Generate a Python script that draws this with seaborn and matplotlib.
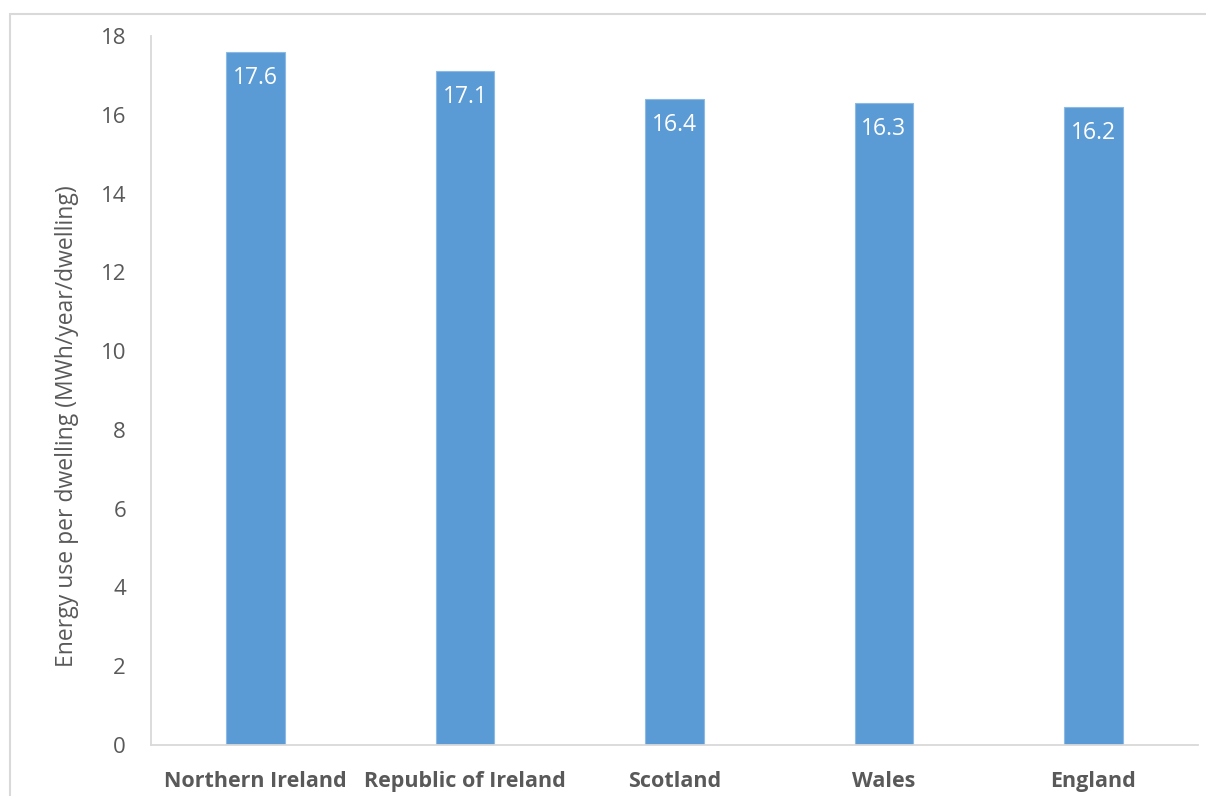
import matplotlib
matplotlib.use("Agg")
import matplotlib.pyplot as plt
from matplotlib.patches import Rectangle
import seaborn as sns
import pandas as pd

regions = ["Northern Ireland", "Republic of Ireland", "Scotland", "Wales", "England"]
energy_use = [17.6, 17.1, 16.4, 16.3, 16.2]
y_ticks = [0, 2, 4, 6, 8, 10, 12, 14, 16, 18]

sns.set_theme(style="white")
plt.rcParams["font.family"] = ["Open Sans", "DejaVu Sans"]

df = pd.DataFrame({"region": regions, "energy": energy_use})

fig = plt.figure(figsize=(12.06, 7.96), dpi=100)
ax = fig.add_axes([151 / 1206, 1 - 745 / 796, (1198 - 151) / 1206, (745 - 36) / 796])

sns.barplot(data=df, x="region", y="energy", color="#5B9BD5", saturation=1,
            width=0.28, ax=ax, edgecolor="#8DB9E5", linewidth=0.8)

ax.set_xlim(-0.5, len(regions) - 0.5)
ax.set_ylim(0, 18)
ax.set_yticks(y_ticks)
ax.set_yticklabels([str(t) for t in y_ticks], fontsize=16, color="#595959")
ax.tick_params(axis="y", length=0, pad=18)
ax.tick_params(axis="x", length=0, pad=19)
for lbl in ax.get_xticklabels():
    lbl.set_fontsize(15.5)
    lbl.set_fontweight("bold")
    lbl.set_color("#595959")

ax.set_xlabel("")
ax.set_ylabel("Energy use per dwelling (MWh/year/dwelling)", fontsize=16.5,
              color="#595959")
ax.yaxis.set_label_coords(-0.0686, 0.45)

for side in ["top", "right"]:
    ax.spines[side].set_visible(False)
for side in ["left", "bottom"]:
    ax.spines[side].set_color("#D9D9D9")
    ax.spines[side].set_linewidth(1.3)

# value labels inside the top of each bar
for bar, val in zip(ax.patches, energy_use):
    ax.annotate(f"{val:.1f}", xy=(bar.get_x() + bar.get_width() / 2, val),
                xytext=(0, -26), textcoords="offset pixels",
                ha="center", va="center", color="white", fontsize=16.5)

# outer chart frame
fig.patches.append(Rectangle((10 / 1206, -0.05), 1.1, 1 - 14 / 796 + 0.05,
                             transform=fig.transFigure, fill=False,
                             edgecolor="#D9D9D9", linewidth=1.5, zorder=0))

fig.savefig("out.png", dpi=100, facecolor="white")
